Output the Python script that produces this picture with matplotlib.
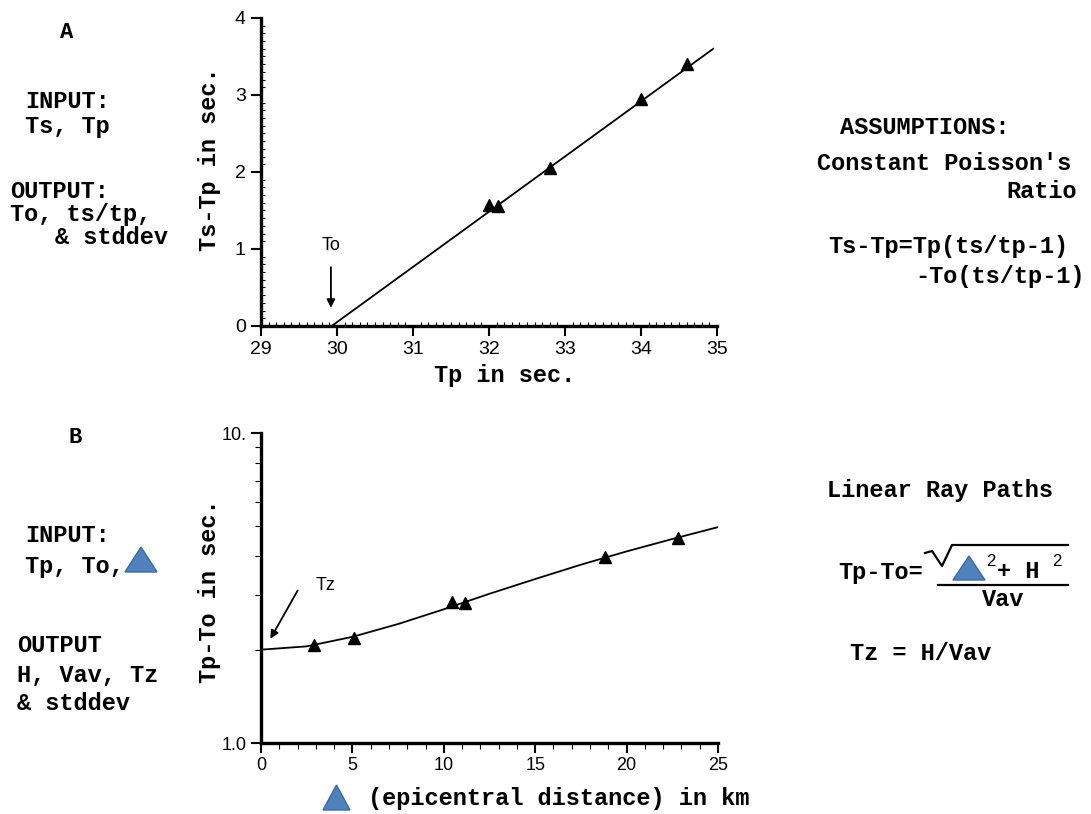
import matplotlib.pyplot as plt
import matplotlib.patches as mpatches
from matplotlib.lines import Line2D
from matplotlib.ticker import MultipleLocator, FixedLocator, NullFormatter
import numpy as np

# panel A: S-P time vs P arrival (Wadati diagram)
tp_pts = [32.0, 32.12, 32.8, 34.0, 34.6]
tsp_pts = [1.57, 1.56, 2.05, 2.95, 3.40]
fit_a_x = [29.93, 34.95]
fit_a_y = [0.0, 3.60]
to_val = 29.92

# panel B: Tp-To vs epicentral distance
dist_pts = [2.9, 5.1, 10.45, 11.15, 18.8, 22.8]
tpto_pts = [2.07, 2.18, 2.85, 2.83, 3.98, 4.58]
curve_x = [0, 2.5, 5, 7.5, 10, 12.5, 15, 17.5, 20, 22.5, 25]
curve_y = [2.00, 2.05, 2.20, 2.42, 2.70, 3.03, 3.38, 3.76, 4.15, 4.55, 4.97]

W, H = 1091, 814
MONO = "Liberation Mono"
SANS = "Liberation Sans"
BLUE = "#4f81bd"
BLUE_EDGE = "#3b6aa3"

fig = plt.figure(figsize=(W / 100, H / 100), dpi=100)


def fx(x):
    return x / W


def fy(y):
    return 1 - y / H


def ftext(x, y, s, ha="left", size=17, **kw):
    fig.text(fx(x), fy(y), s, ha=ha, va="center", family=MONO,
             fontweight="bold", fontsize=size, **kw)


def tri(x0, x1, y_top, y_bot):
    p = mpatches.Polygon([(fx(x0), fy(y_bot)), (fx(x1), fy(y_bot)),
                          (fx((x0 + x1) / 2), fy(y_top))], closed=True,
                         transform=fig.transFigure, facecolor=BLUE,
                         edgecolor=BLUE_EDGE, linewidth=1)
    fig.add_artist(p)


def style_axes(ax):
    for s in ["top", "right"]:
        ax.spines[s].set_visible(False)
    for s in ["left", "bottom"]:
        ax.spines[s].set_linewidth(2.4)
    for lab in ax.get_xticklabels() + ax.get_yticklabels():
        lab.set_family(SANS)


# ---- panel A ----
axA = fig.add_axes([261 / W, 1 - 326 / H, 456 / W, 308 / H])
axA.plot(fit_a_x, fit_a_y, color="black", lw=1.3)
axA.plot(tp_pts, tsp_pts, "^", color="black", ms=9)
axA.set_xlim(29, 35)
axA.set_ylim(0, 4)
axA.xaxis.set_major_locator(MultipleLocator(1))
axA.xaxis.set_minor_locator(MultipleLocator(0.1))
axA.yaxis.set_major_locator(MultipleLocator(1))
axA.yaxis.set_minor_locator(MultipleLocator(0.1))
axA.tick_params(which="major", length=7, width=1.5, labelsize=14, pad=4)
axA.tick_params(which="minor", length=3, width=0.8, direction="in")
axA.set_xlabel("Tp in sec.", family=MONO, fontweight="bold", fontsize=17)
axA.xaxis.set_label_coords(0.535, -0.125)
axA.set_ylabel("Ts-Tp in sec.", family=MONO, fontweight="bold", fontsize=17)
axA.yaxis.set_label_coords(-0.088, 0.54)
axA.annotate("", xy=(to_val, 0.2), xytext=(to_val, 0.8),
             arrowprops=dict(arrowstyle="-|>", color="black", lw=1.3, mutation_scale=12))
axA.text(to_val, 1.05, "To", ha="center", va="center", family=SANS, fontsize=13)
style_axes(axA)

# ---- panel B ----
axB = fig.add_axes([261 / W, 1 - 743 / H, 457 / W, 310 / H])
axB.plot(curve_x, curve_y, color="black", lw=1.3)
axB.plot(dist_pts, tpto_pts, "^", color="black", ms=9)
axB.set_yscale("log")
axB.set_xlim(0, 25)
axB.set_ylim(1, 10)
axB.xaxis.set_major_locator(MultipleLocator(5))
axB.xaxis.set_minor_locator(MultipleLocator(1))
axB.yaxis.set_major_locator(FixedLocator([1, 10]))
axB.yaxis.set_minor_locator(FixedLocator([2, 3, 4, 5, 6, 7, 8, 9]))
axB.yaxis.set_minor_formatter(NullFormatter())
axB.set_yticklabels(["1.0", "10."])
axB.tick_params(which="major", length=7, width=1.5, labelsize=13, pad=3)
axB.tick_params(which="minor", length=4, width=0.8)
axB.set_ylabel("Tp-To in sec.", family=MONO, fontweight="bold", fontsize=17)
axB.yaxis.set_label_coords(-0.088, 0.49)
axB.annotate("", xy=(0.44, 2.13), xytext=(2.08, 3.16),
             arrowprops=dict(arrowstyle="-|>", color="black", lw=1.3, mutation_scale=12))
axB.text(3.0, 3.22, "Tz", ha="left", va="center", family=SANS, fontsize=13)
style_axes(axB)

# bottom x label with triangle symbol
tri(323, 350, 785, 810)
ftext(368, 798, "(epicentral distance) in km")

# ---- left side notes ----
ftext(67, 32, "A", ha="center", size=16)
ftext(25, 102, "INPUT:")
ftext(25, 127, "Ts, Tp")
ftext(10, 192, "OUTPUT:")
ftext(10, 215, "To, ts/tp,")
ftext(55, 238, "& stddev")

ftext(75, 438, "B", ha="center", size=16)
ftext(25, 535, "INPUT:")
ftext(25, 567, "Tp, To,")
tri(125, 157, 547, 572)
ftext(17, 645, "OUTPUT")
ftext(17, 676, "H, Vav, Tz")
ftext(17, 704, "& stddev")

# ---- right side notes ----
ftext(840, 128, "ASSUMPTIONS:")
ftext(817, 163, "Constant Poisson's")
ftext(1077, 192, "Ratio", ha="right")
ftext(828, 247, "Ts-Tp=Tp(ts/tp-1)")
ftext(1085, 277, "-To(ts/tp-1)", ha="right")

ftext(827, 490, "Linear Ray Paths")
ftext(838, 572, "Tp-To=")
# square root sign and fraction bar
fig.add_artist(Line2D([fx(925), fx(932), fx(942), fx(952), fx(1068)],
                      [fy(553), fy(551), fy(566), fy(545), fy(545)],
                      transform=fig.transFigure, color="black", lw=1.6))
tri(953, 985, 556, 580)
fig.text(fx(986), fy(562), "2", family=SANS, fontsize=12, va="center")
ftext(997, 572, "+ H")
fig.text(fx(1052), fy(562), "2", family=SANS, fontsize=12, va="center")
fig.add_artist(Line2D([fx(938), fx(1068)], [fy(585), fy(585)],
                      transform=fig.transFigure, color="black", lw=1.6))
ftext(1003, 600, "Vav", ha="center")
ftext(850, 653, "Tz = H/Vav")

plt.savefig("out.png", dpi=100)
